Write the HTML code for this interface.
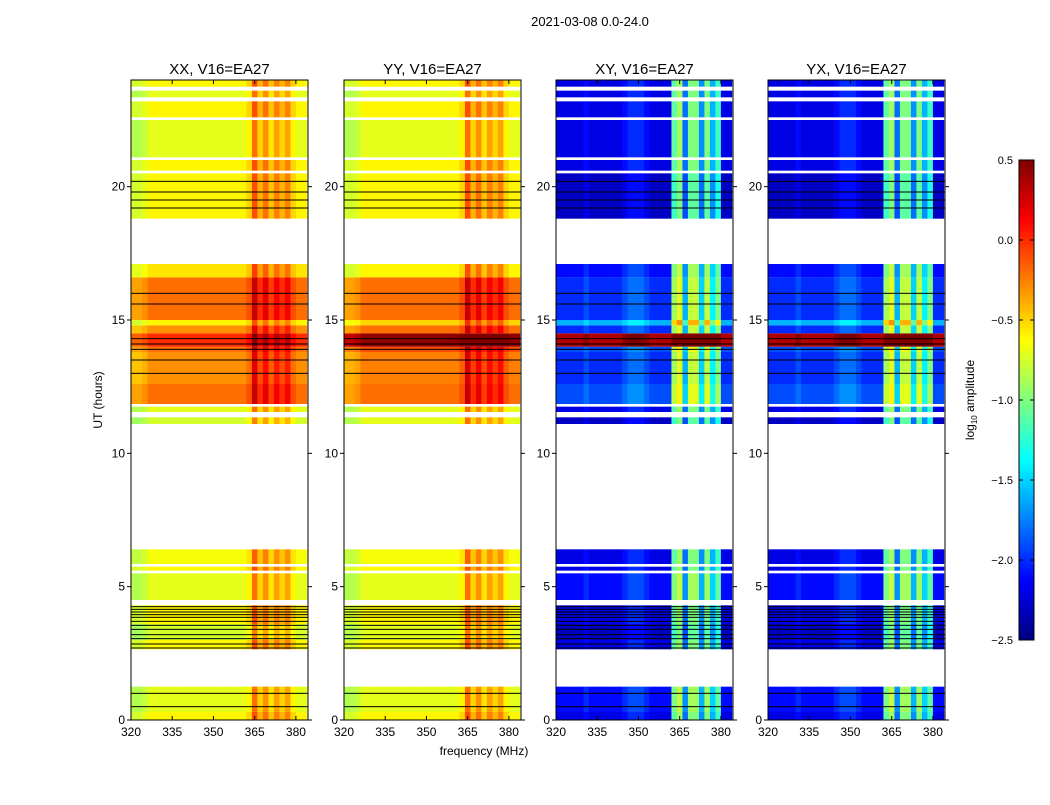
<!DOCTYPE html>
<html><head><meta charset="utf-8"><style>
body{margin:0;background:#fff;}
svg text{font-family:"Liberation Sans",sans-serif;}
</style></head><body>
<svg id="fig" width="1050" height="800" xmlns="http://www.w3.org/2000/svg">
<text x="590" y="26" font-size="13" text-anchor="middle">2021-03-08 0.0-24.0</text>
<g id="panels"></g>
<g id="cbar"></g>
</svg>
<script>
// ---- data ----
const panelTitles = ["XX, V16=EA27","YY, V16=EA27","XY, V16=EA27","YX, V16=EA27"];
const xTicks = [320,335,350,365,380];
const yTicks = [0,5,10,15,20];
const cbTicks = [-2.5,-2.0,-1.5,-1.0,-0.5,0.0,0.5];
// time blocks: start, end (hours)
const blockStart = [0,0.3,2.65,3.0,3.6,4.5,5.6,5.85,11.1,11.55,11.85,12.6,13.8,14.0,14.5,14.8,15.0,16.6,18.8,20.6,21.1,22.6,23.35,23.75];
const blockEnd   = [0.3,1.25,3.0,3.6,4.3,5.5,5.75,6.4,11.35,11.75,12.6,13.8,14.0,14.5,14.8,15.0,16.6,17.1,20.5,21.0,22.5,23.2,23.6,24];
const xxLevel = [-0.6,-0.7,-0.6,-0.75,-0.6,-0.7,-0.6,-0.65,-0.75,-0.7,-0.2,-0.3,-0.2,0.0,-0.3,-0.6,-0.2,-0.55,-0.6,-0.6,-0.7,-0.6,-0.7,-0.6];
const yyLevel = [-0.6,-0.7,-0.6,-0.7,-0.6,-0.7,-0.6,-0.65,-0.7,-0.7,-0.2,-0.25,-0.1,0.45,-0.2,-0.5,-0.2,-0.6,-0.6,-0.6,-0.7,-0.6,-0.7,-0.6];
const crossLevel = [-2.2,-2.1,-2.2,-2.3,-2.2,-2.1,-2.2,-2.2,-2.3,-2.2,-1.9,-2.0,-1.9,0.35,-2.0,-1.6,-2.0,-2.1,-2.3,-2.2,-2.2,-2.2,-2.2,-2.2];
// frequency bins (2 MHz from 320)
const freqBinStart = [320,322,324,326,328,330,332,334,336,338,340,342,344,346,348,350,352,354,356,358,360,362,364,366,368,370,372,374,376,378,380,382];
const parProfile   = [-0.15,-0.15,-0.1,0,0,0,0,0,0,0,0,0,0,0,0,0,0,0,0,0,0,0.1,0.5,0.2,0.4,0.15,0.35,0.2,0.35,0.1,0,0];
const crossProfile = [0,0,0,0,0,0.1,0,0,0,0,0,0,0.1,0.2,0.2,0.2,0.1,0,0,0,0,1.1,1.3,0.4,1.2,1.2,0.5,1.2,0.6,1.0,0,0];
const blackLines = [0.5,1.0,2.7,2.85,3.05,3.2,3.4,3.55,3.7,3.85,3.95,4.05,4.15,4.25,13.0,13.5,13.9,14.1,14.3,15.6,16.0,19.2,19.5,19.8,20.2];

// ---- layout ----
const panelX = [131,344,556,768], PW=177, PT=80, PB=720;
const xmin=320,xmax=384.4,ymin=0,ymax=24;
const NS="http://www.w3.org/2000/svg";
function mk(tag,attrs,parent){const e=document.createElementNS(NS,tag);for(const k in attrs)e.setAttribute(k,attrs[k]);parent.appendChild(e);return e;}
function jet(v){
  v=Math.max(0,Math.min(1,v));
  const f=(x)=>Math.max(0,Math.min(1,x));
  const r=f(1.5-Math.abs(4*v-3)),g=f(1.5-Math.abs(4*v-2)),b=f(1.5-Math.abs(4*v-1));
  return `rgb(${Math.round(r*255)},${Math.round(g*255)},${Math.round(b*255)})`;
}
function cval(v){return jet((v+2.5)/3);}
const yS=t=>PB-(t-ymin)/(ymax-ymin)*(PB-PT);
const panelsG=document.getElementById('panels');
panelX.forEach((px,pi)=>{
  const xS=f=>px+(f-xmin)/(xmax-xmin)*PW;
  const g=mk('g',{},panelsG);
  
  
  const levels = pi===0?xxLevel:pi===1?yyLevel:crossLevel;
  const prof = pi<2?parProfile:crossProfile;
  blockStart.forEach((t0,bi)=>{
    const y0=yS(blockEnd[bi]),y1=yS(t0);
    freqBinStart.forEach((f0,fi)=>{
      const x0=xS(f0),x1=Math.min(xS(f0+2),px+PW);
      const r=mk('rect',{x:x0,y:y0,width:x1-x0+0.3,height:y1-y0,fill:cval(levels[bi]+prof[fi])},g);
      
      
    });
  });
  blackLines.forEach(t=>{
    const l=mk('rect',{x:px,y:yS(t)-0.5,width:PW,height:1,fill:'#000'},g);
    
    
  });
  const fr=mk('rect',{x:px,y:PT,width:PW,height:PB-PT,fill:'none',stroke:'#000','stroke-width':1},g);
  
  
  const tt=mk('text',{x:px+PW/2,y:74,'font-size':15,'text-anchor':'middle'},g);
  tt.textContent=panelTitles[pi];
  
  
  xTicks.forEach(v=>{
    const x=xS(v);
    mk('line',{x1:x,x2:x,y1:PB,y2:PB-4,stroke:'#000'},g);
    mk('line',{x1:x,x2:x,y1:PT,y2:PT+4,stroke:'#000'},g);
    const t=mk('text',{x:x,y:PB+16,'font-size':12,'text-anchor':'middle'},g);
    t.textContent=v;
    
    
  });
  yTicks.forEach(v=>{
    const y=yS(v);
    mk('line',{x1:px-4,x2:px,y1:y,y2:y,stroke:'#000'},g);
    mk('line',{x1:px+PW,x2:px+PW+4,y1:y,y2:y,stroke:'#000'},g);
    const t=mk('text',{x:px-6,y:y+4,'font-size':12,'text-anchor':'end'},g);
    t.textContent=v;
    
    
  });
});
const xl=mk('text',{x:484,y:755,'font-size':12,'text-anchor':'middle'},panelsG);
xl.textContent='frequency (MHz)';


const yl=mk('text',{x:102,y:400,'font-size':12,'text-anchor':'middle',transform:'rotate(-90 102 400)'},panelsG);
yl.textContent='UT (hours)';


// colorbar
const cb=document.getElementById('cbar');


const CX=1019,CW=15,CT=160,CBt=640;
const cS=v=>CBt-(v+2.5)/3*(CBt-CT);
for(let i=0;i<120;i++){
  const v=-2.5+3*i/120;
  mk('rect',{x:CX,y:cS(v+3/120),width:CW,height:(CBt-CT)/120+0.5,fill:cval(v+1.5/120)},cb);
}
mk('rect',{x:CX,y:CT,width:CW,height:CBt-CT,fill:'none',stroke:'#000'},cb);
cbTicks.forEach(v=>{
  const y=cS(v);
  mk('line',{x1:CX,x2:CX+4,y1:y,y2:y,stroke:'#000'},cb);
  mk('line',{x1:CX+CW-4,x2:CX+CW,y1:y,y2:y,stroke:'#000'},cb);
  const t=mk('text',{x:CX-6,y:y+4,'font-size':11,'text-anchor':'end'},cb);
  t.textContent=(v<0?'\u2212':'')+Math.abs(v).toFixed(1);
  
  
});
const cl=mk('text',{x:974,y:400,'font-size':12,'text-anchor':'middle',transform:'rotate(-90 974 400)'},cb);
cl.innerHTML='log<tspan font-size="8" dy="3">10</tspan><tspan dy="-3"> amplitude</tspan>';


</script>
</body></html>
